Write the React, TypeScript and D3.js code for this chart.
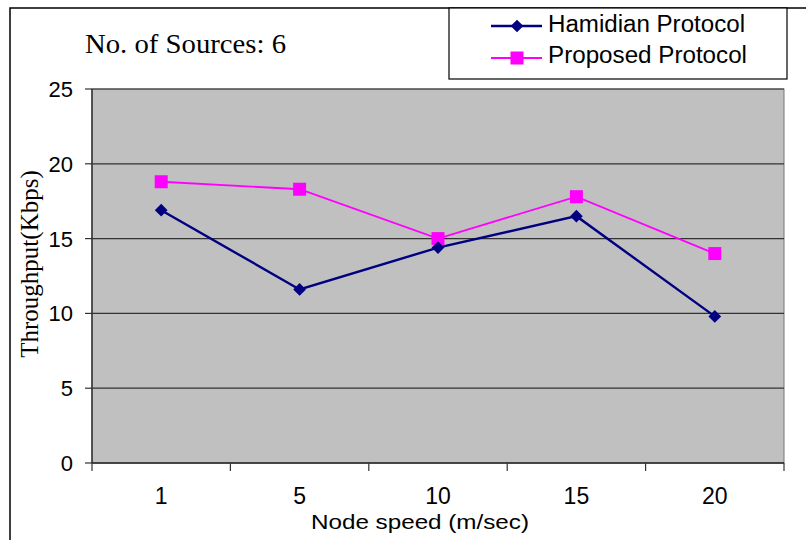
import * as d3 from "d3";
import React from "react";

const speeds = ["1", "5", "10", "15", "20"];
const hamidian = [16.9, 11.6, 14.4, 16.5, 9.8];
const proposed = [18.8, 18.3, 15.0, 17.8, 14.0];
const yTicks = [0, 5, 10, 15, 20, 25];

const W = 806, H = 540;
const left = 92, right = 784, top = 89, bottom = 463;

export default function App() {
  const x = d3.scaleBand().domain(speeds).range([left, right]);
  const y = d3.scaleLinear().domain([0, 25]).range([bottom, top]);
  const cx = (i: number) => x(speeds[i])! + x.bandwidth() / 2;
  const line = d3
    .line<number>()
    .x((_, i) => cx(i))
    .y((d) => y(d));
  const boundaries = speeds.map((s) => x(s)!).concat([right]);
  const sans = "'Liberation Sans', Arial, sans-serif";
  const serif = "'Liberation Serif', 'Times New Roman', serif";

  const diamond = (px: number, py: number, k: string | number) => (
    <rect key={k} x={px - 4.5} y={py - 4.5} width={9} height={9} fill="#000080"
      transform={`rotate(45 ${px} ${py})`} />
  );
  const square = (px: number, py: number, k: string | number) => (
    <rect key={k} x={px - 6.5} y={py - 6.5} width={13} height={13} fill="#FF00FF" />
  );

  return (
    <svg width={W} height={H} style={{ position: "absolute", left: 0, top: 0 }}>
      <rect x={0} y={0} width={W} height={H} fill="#fff" />
      {/* outer frame */}
      <rect x={10} y={8} width={W + 10} height={H + 10} fill="none" stroke="#000" strokeWidth={1.5} />

      <text x={85} y={53} fontFamily={serif} fontSize={28} fill="#000"
        textLength={201} lengthAdjust="spacingAndGlyphs">No. of Sources: 6</text>

      {/* plot area */}
      <rect x={left} y={top} width={right - left} height={bottom - top} fill="#C0C0C0" stroke="#777" strokeWidth={1} />
      {yTicks.map((t) => (
        <g key={t}>
          {t > 0 && <line x1={left} x2={right} y1={y(t)} y2={y(t)} stroke="#333" strokeWidth={1.2} />}
          <line x1={left - 7} x2={left} y1={y(t)} y2={y(t)} stroke="#333" strokeWidth={1.2} />
          <text x={73} y={y(t) + 8} textAnchor="end" fontFamily={sans} fontSize={22} fill="#000">{t}</text>
        </g>
      ))}
      <line x1={left} x2={left} y1={top} y2={bottom} stroke="#333" strokeWidth={1.5} />
      <line x1={left} x2={right} y1={bottom} y2={bottom} stroke="#222" strokeWidth={1.5} />
      {boundaries.map((b, i) => (
        <line key={i} x1={b} x2={b} y1={bottom} y2={bottom + 8} stroke="#333" strokeWidth={1.2} />
      ))}
      {speeds.map((s, i) => (
        <text key={s} x={cx(i)} y={504} textAnchor="middle" fontFamily={sans} fontSize={23} fill="#000">{s}</text>
      ))}

      <text x={311} y={529} fontFamily={sans} fontSize={21} fill="#000"
        textLength={218} lengthAdjust="spacingAndGlyphs">Node speed (m/sec)</text>
      <text transform="translate(37.5,264) rotate(-90)" textAnchor="middle" fontFamily={serif} fontSize={25} fill="#000">Throughput(Kbps)</text>

      {/* series */}
      <path d={line(hamidian)!} fill="none" stroke="#000080" strokeWidth={2.4} />
      <path d={line(proposed)!} fill="none" stroke="#FF00FF" strokeWidth={1.8} />
      {proposed.map((v, i) => square(cx(i), y(v), "p" + i))}
      {hamidian.map((v, i) => diamond(cx(i), y(v), "h" + i))}

      {/* legend */}
      <rect x={449} y={8} width={338} height={71} fill="#fff" stroke="#000" strokeWidth={1.2} />
      <line x1={491} x2={542} y1={26} y2={26} stroke="#000080" strokeWidth={2.4} />
      {diamond(517, 26, "lh")}
      <text x={548} y={32} fontFamily={sans} fontSize={23.5} fill="#000"
        textLength={197} lengthAdjust="spacingAndGlyphs">Hamidian Protocol</text>
      <line x1={491} x2={542} y1={58} y2={58} stroke="#FF00FF" strokeWidth={1.8} />
      {square(517, 58, "lp")}
      <text x={548} y={63} fontFamily={sans} fontSize={23.5} fill="#000"
        textLength={199} lengthAdjust="spacingAndGlyphs">Proposed Protocol</text>
    </svg>
  );
}
